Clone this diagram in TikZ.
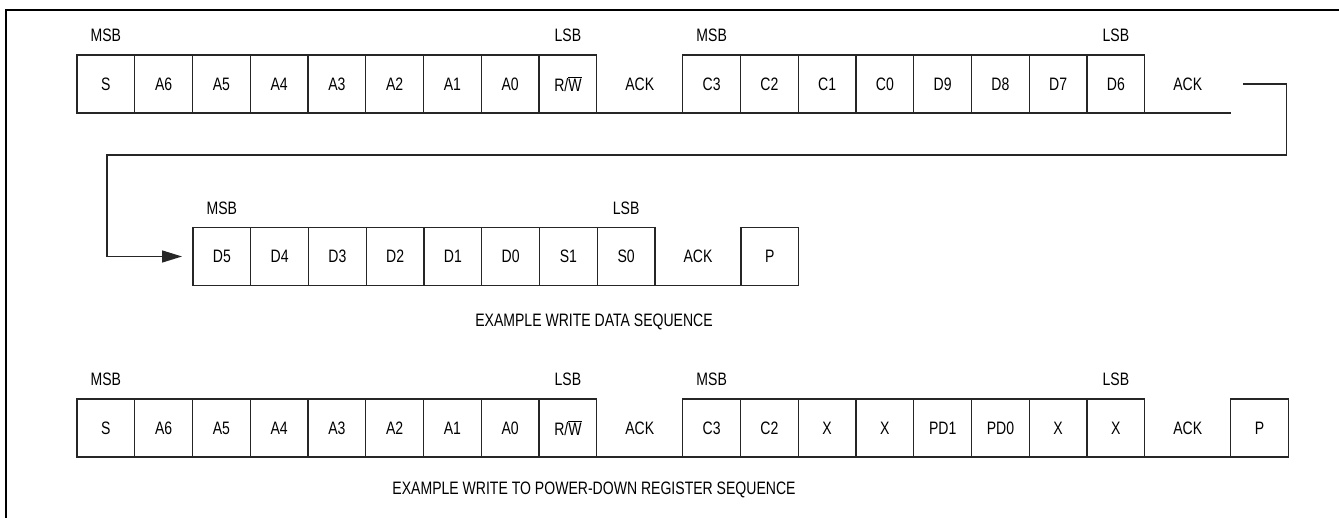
\documentclass[tikz,border=0pt]{standalone}
\usepackage{fontspec}
\setmainfont[FakeStretch=0.78]{Liberation Sans}
\usetikzlibrary{arrows.meta, positioning}

\begin{document}
\begin{tikzpicture}[
    x=1pt, y=1pt,
    bitcell/.style={
        draw=black!85,
        line width=1.3pt,
        minimum width=57.75pt,
        minimum height=58pt,
        inner sep=0pt,
        outer sep=0pt,
        font=\fontsize{18}{21}\selectfont
    },
    ackslot/.style={
        minimum width=86pt,
        minimum height=58pt,
        inner sep=0pt,
        outer sep=0pt,
        font=\fontsize{18}{21}\selectfont
    },
    bitlabel/.style={
        inner sep=0pt,
        font=\fontsize{18}{21}\selectfont
    },
    seqcaption/.style={
        inner sep=0pt,
        font=\fontsize{18}{21}\selectfont
    },
    busline/.style={
        draw=black!85,
        line width=1.3pt
    }
]
    \useasboundingbox (0,0) rectangle (1339,518);
    \draw[line width=2.3pt] (6,0) -- (6,508) -- (1339,508);

    % write data sequence, first line
    \node[bitcell] (sA) at (105.9,434) {S};
    \node[bitcell, right=0pt of sA] (a6A) {A6};
    \node[bitcell, right=0pt of a6A] (a5A) {A5};
    \node[bitcell, right=0pt of a5A] (a4A) {A4};
    \node[bitcell, right=0pt of a4A] (a3A) {A3};
    \node[bitcell, right=0pt of a3A] (a2A) {A2};
    \node[bitcell, right=0pt of a2A] (a1A) {A1};
    \node[bitcell, right=0pt of a1A] (a0A) {A0};
    \node[bitcell, right=0pt of a0A] (rwA) {R/$\overline{\mbox{W}}$};
    \node[ackslot, right=0pt of rwA] (ackA) {ACK};
    \node[bitcell, right=0pt of ackA] (c3A) {C3};
    \node[bitcell, right=0pt of c3A] (c2A) {C2};
    \node[bitcell, right=0pt of c2A] (c1A) {C1};
    \node[bitcell, right=0pt of c1A] (c0A) {C0};
    \node[bitcell, right=0pt of c0A] (d9A) {D9};
    \node[bitcell, right=0pt of d9A] (d8A) {D8};
    \node[bitcell, right=0pt of d8A] (d7A) {D7};
    \node[bitcell, right=0pt of d7A] (d6A) {D6};
    \node[ackslot, right=0pt of d6A] (ackB) {ACK};
    \draw[busline] (rwA.south east) -- (c3A.south west);
    \draw[busline] (d6A.south east) -- (ackB.south east);

    \node[bitlabel, above=13pt of sA] {MSB};
    \node[bitlabel, above=13pt of rwA] {LSB};
    \node[bitlabel, above=13pt of c3A] {MSB};
    \node[bitlabel, above=13pt of d6A] {LSB};

    % write data sequence, second line
    \node[bitcell] (d5B) at (221.9,261.5) {D5};
    \node[bitcell, right=0pt of d5B] (d4B) {D4};
    \node[bitcell, right=0pt of d4B] (d3B) {D3};
    \node[bitcell, right=0pt of d3B] (d2B) {D2};
    \node[bitcell, right=0pt of d2B] (d1B) {D1};
    \node[bitcell, right=0pt of d1B] (d0B) {D0};
    \node[bitcell, right=0pt of d0B] (s1B) {S1};
    \node[bitcell, right=0pt of s1B] (s0B) {S0};
    \node[ackslot, right=0pt of s0B] (ackC) {ACK};
    \node[bitcell, right=0pt of ackC] (pB) {P};
    \draw[busline] (s0B.south east) -- (pB.south west);

    \node[bitlabel, above=13pt of d5B] {MSB};
    \node[bitlabel, above=13pt of s0B] {LSB};

    \coordinate (wrapout) at ([xshift=12pt]ackB.east);
    \draw[busline, -{Triangle[length=20pt,width=12pt]}, shorten >=11pt]
        (wrapout) -- ++(44,0) |- (107,363) |- (d5B.west);

    \node[seqcaption] (capdata) at (594,196) {EXAMPLE WRITE DATA SEQUENCE};

    % power-down register sequence
    \node[bitcell] (sC) at (105.9,90) {S};
    \node[bitcell, right=0pt of sC] (a6C) {A6};
    \node[bitcell, right=0pt of a6C] (a5C) {A5};
    \node[bitcell, right=0pt of a5C] (a4C) {A4};
    \node[bitcell, right=0pt of a4C] (a3C) {A3};
    \node[bitcell, right=0pt of a3C] (a2C) {A2};
    \node[bitcell, right=0pt of a2C] (a1C) {A1};
    \node[bitcell, right=0pt of a1C] (a0C) {A0};
    \node[bitcell, right=0pt of a0C] (rwC) {R/$\overline{\mbox{W}}$};
    \node[ackslot, right=0pt of rwC] (ackD) {ACK};
    \node[bitcell, right=0pt of ackD] (c3C) {C3};
    \node[bitcell, right=0pt of c3C] (c2C) {C2};
    \node[bitcell, right=0pt of c2C] (xaC) {X};
    \node[bitcell, right=0pt of xaC] (xbC) {X};
    \node[bitcell, right=0pt of xbC] (pd1C) {PD1};
    \node[bitcell, right=0pt of pd1C] (pd0C) {PD0};
    \node[bitcell, right=0pt of pd0C] (xcC) {X};
    \node[bitcell, right=0pt of xcC] (xdC) {X};
    \node[ackslot, right=0pt of xdC] (ackE) {ACK};
    \node[bitcell, right=0pt of ackE] (pC) {P};
    \draw[busline] (rwC.south east) -- (c3C.south west);
    \draw[busline] (xdC.south east) -- (pC.south west);

    \node[bitlabel, above=13pt of sC] {MSB};
    \node[bitlabel, above=13pt of rwC] {LSB};
    \node[bitlabel, above=13pt of c3C] {MSB};
    \node[bitlabel, above=13pt of xdC] {LSB};

    \node[seqcaption] (cappower) at (594,28) {EXAMPLE WRITE TO POWER-DOWN REGISTER SEQUENCE};
\end{tikzpicture}
\end{document}
